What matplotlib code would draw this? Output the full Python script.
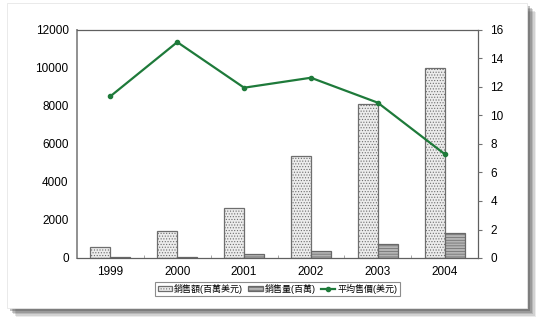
import numpy as np
import matplotlib.pyplot as plt
from matplotlib.patches import Rectangle

plt.rcParams['font.family'] = ['Liberation Sans', 'Noto Sans CJK TC']
plt.rcParams['hatch.linewidth'] = 0.5
plt.rcParams['hatch.color'] = '#8a8a8a'

# data
years = ['1999', '2000', '2001', '2002', '2003', '2004']
sales = [560, 1420, 2620, 5350, 8090, 10020]        # 銷售額(百萬美元)
volume = [30, 75, 200, 370, 720, 1330]              # 銷售量(百萬)
avg_price = [11.35, 15.15, 11.95, 12.65, 10.9, 7.3]  # 平均售價(美元)

fig = plt.figure(figsize=(5.5, 3.31), dpi=100)
W, H = 550, 331

# card with a soft shadow
for i, a in enumerate([0.10, 0.14, 0.18, 0.24, 0.32]):
    off = 9 - i * 1.5
    fig.patches.append(Rectangle(((7 + off) / W, (H - 308 - off) / H), 520 / W, 305 / H,
                                 transform=fig.transFigure, facecolor='#404040',
                                 alpha=a, edgecolor='none', zorder=0))
fig.patches.append(Rectangle((7 / W, (H - 308) / H), 520 / W, 305 / H,
                             transform=fig.transFigure, facecolor='white',
                             edgecolor='#e6e6e6', linewidth=0.6, zorder=1))

ax = fig.add_axes([77 / W, 1 - 258 / H, 401 / W, 228 / H])
ax.set_zorder(2)
x = np.arange(len(years))
w = 0.3

b1 = ax.bar(x - w / 2, sales, w, facecolor='#ececec', edgecolor='#6e6e6e',
            hatch='......', linewidth=0.9, label='銷售額(百萬美元)')
b2 = ax.bar(x + w / 2, volume, w, facecolor='#b4b4b4', edgecolor='#686868',
            hatch='------', linewidth=0.9, label='銷售量(百萬)')

ax.set_xlim(-0.5, len(years) - 0.5)
ax.set_ylim(0, 12000)
ax.set_yticks(range(0, 12001, 2000))
ax.set_xticks(x)
ax.set_xticklabels(years)
ax.set_xticks(np.arange(0.5, len(years) - 0.5, 1), minor=True)
ax.tick_params(axis='x', which='major', length=0, pad=6, labelsize=8.5)
ax.tick_params(axis='x', which='minor', direction='in', length=2, color='#999999')
ax.tick_params(axis='y', length=0, labelsize=8.5, pad=6)
for s in ax.spines.values():
    s.set_color('#606060')
    s.set_linewidth(0.9)
ax.spines['left'].set_color('#909090')
ax.spines['left'].set_linewidth(1.4)

ax2 = ax.twinx()
ln, = ax2.plot(x, avg_price, color='#1e7a3a', linewidth=1.6, marker='o',
               markersize=3, label='平均售價(美元)')
ax2.set_ylim(0, 16)
ax2.set_yticks(range(0, 17, 2))
ax2.tick_params(axis='y', length=3, width=0.8, color='#707070', labelsize=8.5, pad=6)
for s in ax2.spines.values():
    s.set_visible(False)

leg = ax.legend(handles=[b1, b2, ln], loc='center', bbox_to_anchor=(0.5, -0.136),
                ncol=3, fontsize=6.5, frameon=True, fancybox=False,
                handlelength=1.6, handleheight=0.5, handletextpad=0.2,
                columnspacing=0.6, borderpad=0.25)
leg.get_frame().set_edgecolor('#707070')
leg.get_frame().set_linewidth(0.8)

plt.savefig('out.png', dpi=100)
